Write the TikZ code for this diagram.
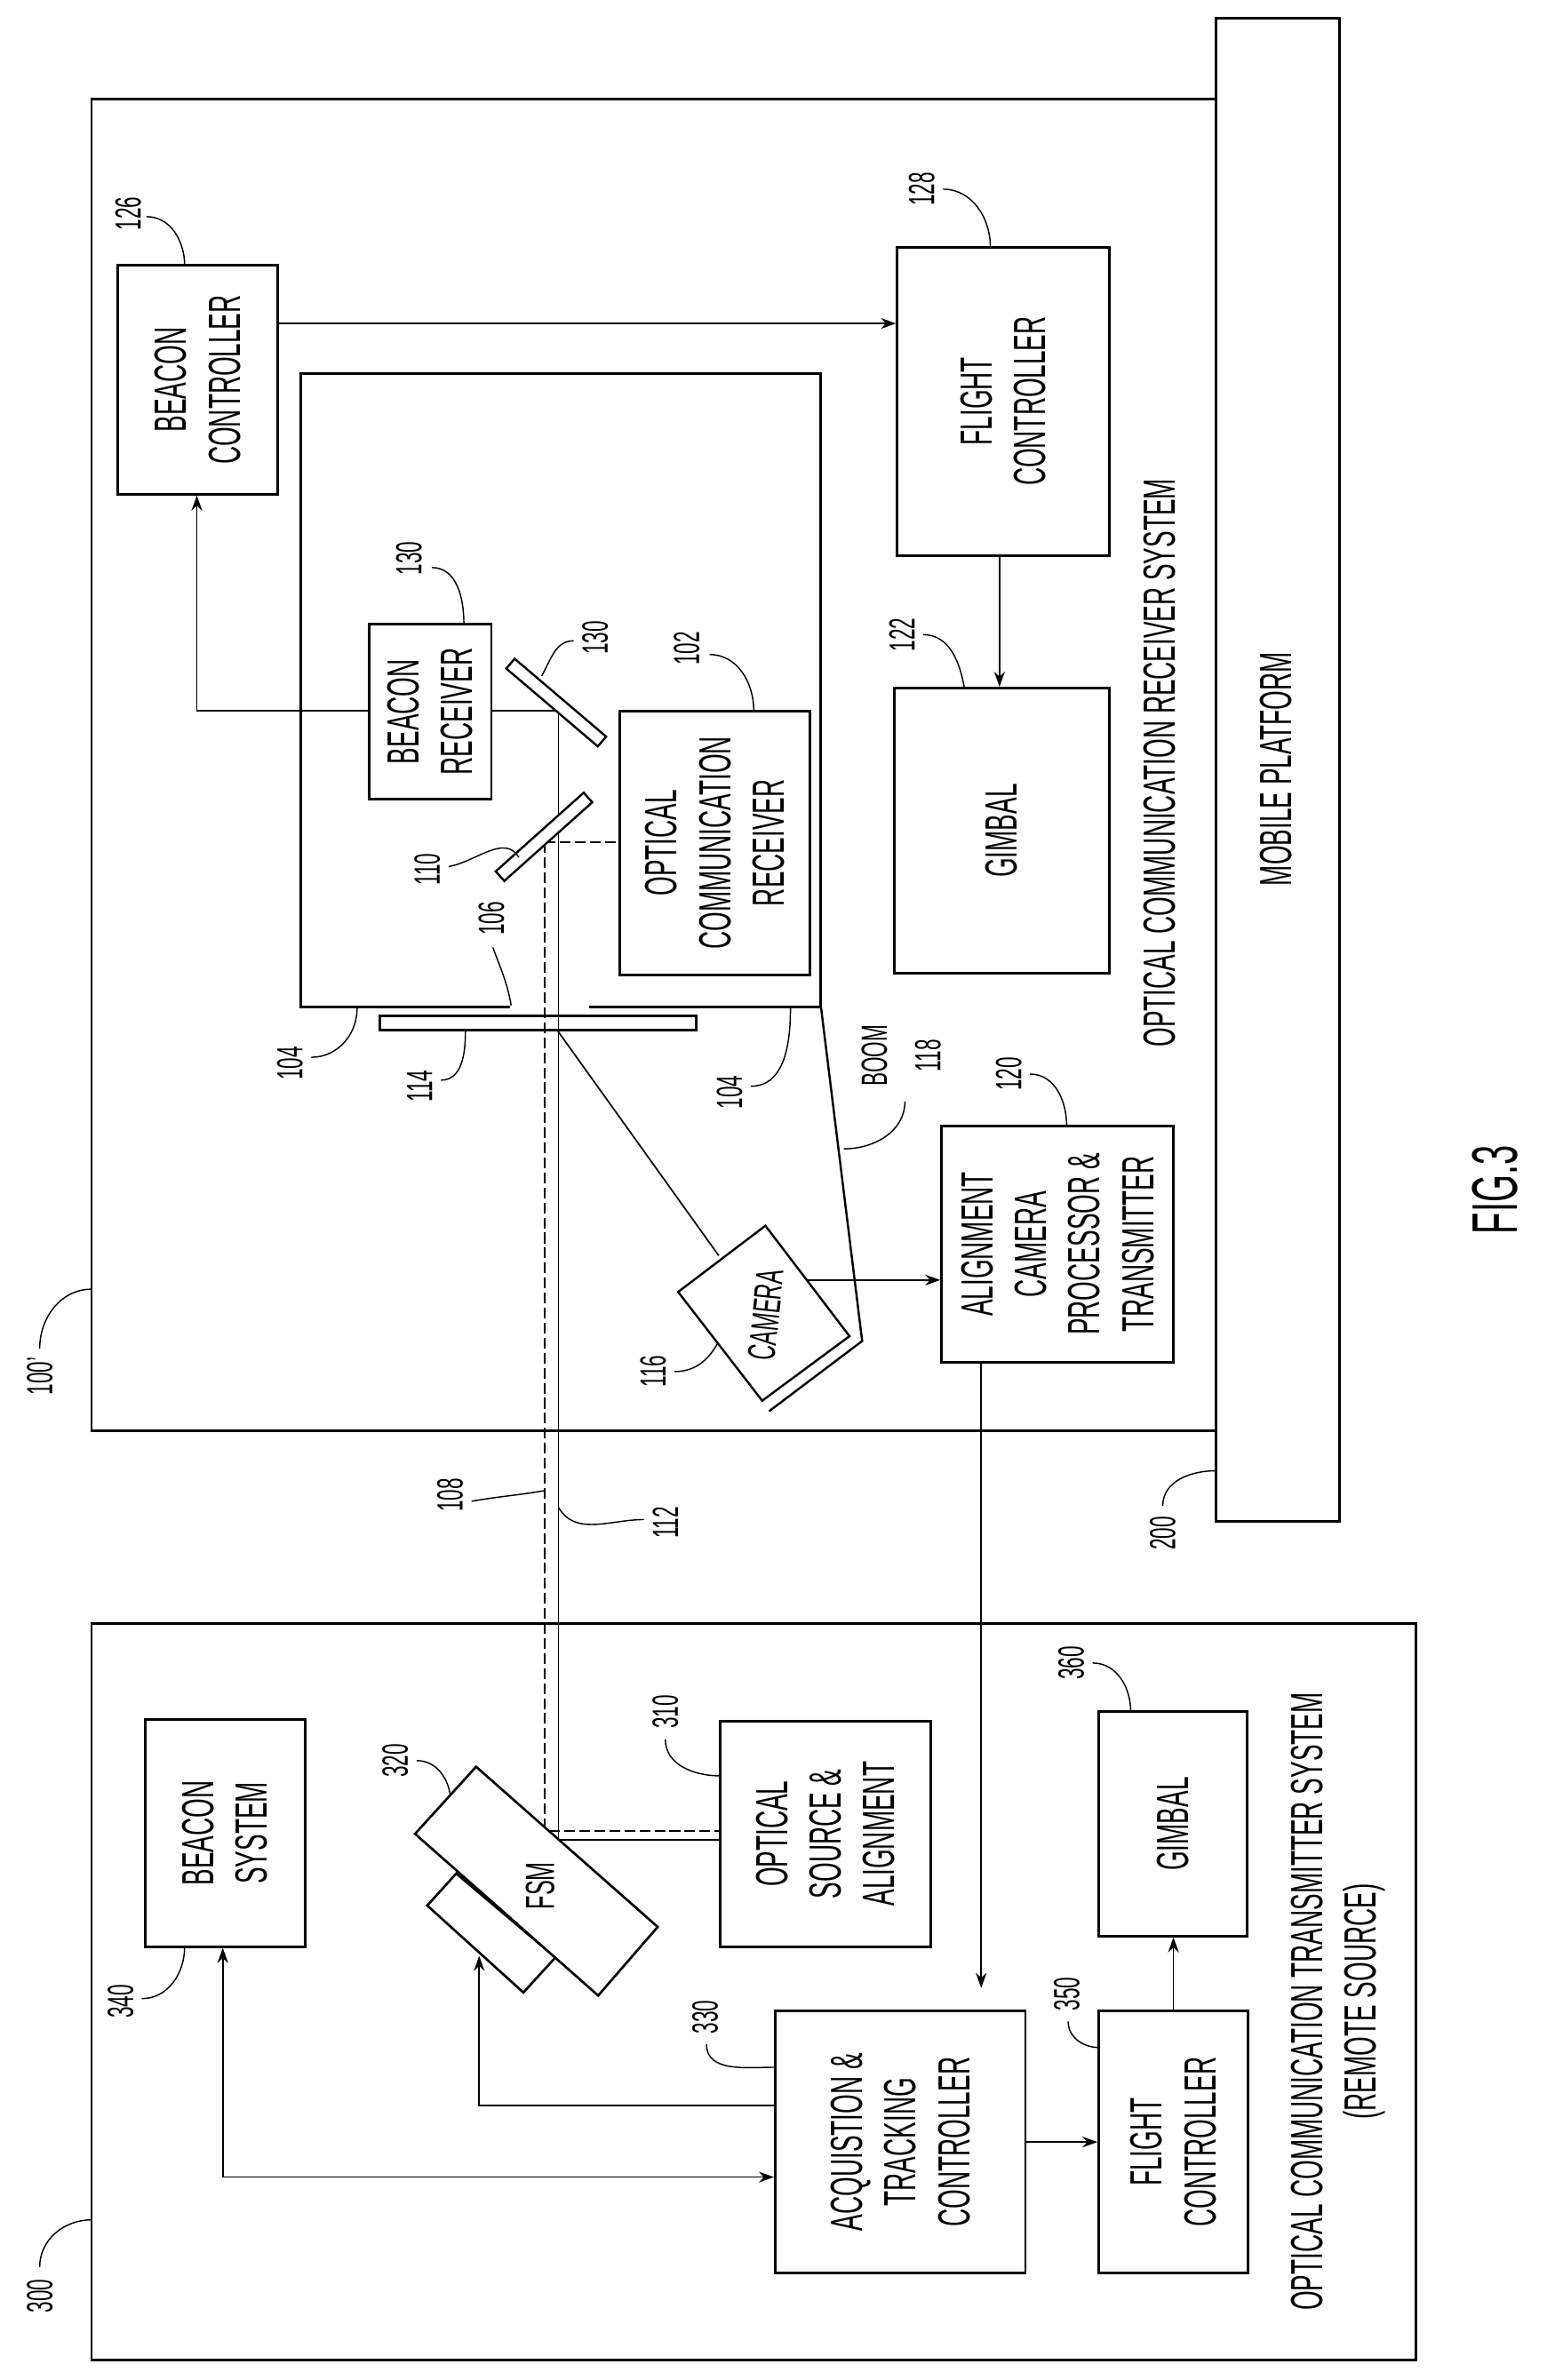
\documentclass[tikz,border=0pt]{standalone}
\usepackage{fontspec}
\setmainfont{Liberation Sans}[FakeStretch=0.55]
\usetikzlibrary{fit,arrows.meta}
\begin{document}
\begin{tikzpicture}[x=0.025cm,y=-0.025cm,
  box/.style={draw,line width=1.2pt,inner sep=0pt},
  con/.style={line width=0.7pt},
  arr/.style={con,-{Stealth[length=7pt,width=5pt]}},
  lead/.style={line width=0.6pt},
  txt/.style={rotate=90,align=center,font=\fontsize{21}{25}\selectfont},
  num/.style={rotate=90,font=\fontsize{17}{20}\selectfont,inner sep=1pt},
  mir/.style={draw,line width=1pt,fill=white,minimum height=6pt,inner sep=0pt}]
\useasboundingbox (0,0) rectangle (1024,1560);
% receiver system
\node[box,fit={(60,65)(797,938)}] (rx) {};
\node[box,fit={(797,12)(878,997)}] (mp) {};
\node[txt] at (836,504) {MOBILE PLATFORM};
\node[txt] at (760,500) {OPTICAL COMMUNICATION RECEIVER SYSTEM};
\node[box,fit={(77,174)(182,324)}] (bc) {};
\node[txt] at (bc) {BEACON\\CONTROLLER};
\node[box,fit={(588,162)(727,364)}] (fc) {};
\node[txt] at (fc) {FLIGHT\\CONTROLLER};
\node[box,fit={(586,451)(727,638)}] (gb) {};
\node[txt] at (gb) {GIMBAL};
% inner box 104
\draw[line width=1.2pt] (334,660) -| (197,245) -| (538,660) -- (386,660);
\node[box,fit={(242,409)(322,524)}] (br) {};
\node[txt] at (br) {BEACON\\RECEIVER};
\node[box,fit={(406,466)(531,639)}] (ocr) {};
\node[txt] at (ocr) {OPTICAL\\COMMUNICATION\\RECEIVER};
\node[box,fit={(249,666)(456,675)}] (plate) {};
\node[box,fit={(617,738)(769,893)}] (al) {};
\node[txt] at (al) {ALIGNMENT\\CAMERA\\PROCESSOR \&\\TRANSMITTER};
% beams
\coordinate (m130) at (365,466);
\coordinate (m110) at (357,552);
\draw[con] (366,466) -- (366,1206);
\draw[con,dash pattern=on 5pt off 2pt] (m110) -- (357,1198);
\draw[con,dash pattern=on 5pt off 2pt] (m110) -- (ocr.west |- m110);
\draw[con] (br.east |- m130) -- (m130);
\node[mir,minimum width=56pt,rotate=-40.4] (mr130) at (364.5,460.5) {};
\node[mir,minimum width=55pt,rotate=41.8] (mr110) at (356.5,548.5) {};
\draw[arr] (br.west |- m130) -| (bc.south -| 129,0);
\draw[arr] (bc.east |- 0,212) -- (fc.west |- 0,212);
\draw[arr] (fc.south -| 655,0) -- (gb.north -| 655,0);
% camera & boom
\coordinate (c1) at (501.6,803.4);
\coordinate (c2) at (556.7,875.8);
\coordinate (c3) at (499.5,918.1);
\coordinate (c4) at (444.4,846.8);
\draw[line width=1pt,fill=white] (c1) -- (c2) -- (c3) -- (c4) -- cycle;
\node[txt,rotate=-6,font=\fontsize{18}{20}\selectfont,inner sep=0pt] (cam) at (502,862) {CAMERA};
\draw[line width=1pt] (538,660) -- (565,879) -- (504,925);
\draw[con] (365,675) -- (471,823);
\draw[arr] (529,839) -- (al.west |- 0,839);
% transmitter system
\node[box,fit={(60,1064)(928,1547)}] (tx) {};
\node[txt] at (877,1312) {OPTICAL COMMUNICATION TRANSMITTER SYSTEM\\(REMOTE SOURCE)};
\node[box,fit={(95,1127)(200,1276)}] (bs) {};
\node[txt] at (bs) {BEACON\\SYSTEM};
\node[box,fit={(472,1128)(610,1276)}] (os) {};
\node[txt] at (os) {OPTICAL\\SOURCE \&\\ALIGNMENT};
\node[box,fit={(720,1122)(817,1269)}] (gb2) {};
\node[txt] at (gb2) {GIMBAL};
\node[box,fit={(508,1318)(672,1490)}] (acq) {};
\node[txt] at (acq) {ACQUISTION \&\\TRACKING\\CONTROLLER};
\node[box,fit={(720,1318)(818,1490)}] (fc2) {};
\node[txt] at (fc2) {FLIGHT\\CONTROLLER};
% FSM
\draw[line width=1.1pt,fill=white] (299,1228) -- (280,1249) -- (343,1306) -- (364,1283) -- cycle;
\draw[line width=1.1pt,fill=white] (312,1158) -- (431,1263) -- (392,1308) -- (272,1202) -- cycle;
\node[txt,font=\fontsize{19}{22}\selectfont] (fsm) at (354,1236) {FSM};
\draw[con,dash pattern=on 5pt off 2pt] (360,1200) -- (os.west |- 0,1200);
\draw[con] (366,1206) -- (os.west |- 0,1206);
\draw[arr] (al.south -| 643,0) -- (643,1303);
\draw[arr] (acq.west |- 0,1380) -| (314,1282);
\draw[con,{Stealth[length=7pt,width=5pt]}-{Stealth[length=7pt,width=5pt]}] (bs.south -| 146,0) |- (acq.west |- 0,1427);
\draw[arr] (acq.east |- 0,1404) -- (fc2.west |- 0,1404);
\draw[arr] (fc2.north -| 769,0) -- (gb2.south -| 769,0);
% labels
\node[num] at (84,140) {126};
\draw[lead] (96,142) to[out=0,in=90] (121,174);
\node[num] at (604,124) {128};
\draw[lead] (618,124) to[out=0,in=90] (649,162);
\node[num] at (268,366) {130};
\draw[lead] (283,372) to[out=0,in=90] (304,409);
\node[num] at (390,418) {130};
\draw[lead] (376,420) to[out=180,in=60] (355,443);
\node[num] at (450,425) {102};
\draw[lead] (465,429) to[out=0,in=90] (494,466);
\node[num] at (280,570) {110};
\draw[lead] (294,568) to[out=10,in=120] (340,562);
\node[num] at (322,602) {106};
\draw[lead] (323,621) to[out=-70,in=100] (335,659);
\node[num] at (190,697) {104};
\draw[lead] (204,693) to[out=0,in=-90] (234,661);
\node[num] at (275,712) {114};
\draw[lead] (289,708) to[out=0,in=-90] (305,676);
\node[num] at (478,716) {104};
\draw[lead] (492,712) to[out=0,in=-90] (518,661);
\node[num] at (573,692) {BOOM};
\node[num] at (608,692) {118};
\draw[lead] (593,722) to[out=-90,in=0] (553,753);
\node[num] at (661,704) {120};
\draw[lead] (675,704) to[out=0,in=90] (699,738);
\node[num] at (428,899) {116};
\draw[lead] (442,899) to[out=0,in=-120] (470,881);
\node[num] at (591,416) {122};
\draw[lead] (605,416) to[out=0,in=100] (632,451);
\node[num] at (26,902) {100'};
\draw[lead] (26,884) to[out=90,in=180] (60,845);
\node[num] at (762,1005) {200};
\draw[lead] (762,987) to[out=90,in=180] (797,964);
\node[num] at (295,980) {108};
\draw[lead] (309,984) to[out=10,in=190] (357,977);
\node[num] at (436,998) {112};
\draw[lead] (422,996) to[out=180,in=-60] (366,988);
\node[num] at (436,1122) {310};
\draw[lead] (436,1140) to[out=-90,in=180] (472,1164);
\node[num] at (259,1154) {320};
\draw[lead] (273,1154) to[out=0,in=100] (295,1176);
\node[num] at (79,1312) {340};
\draw[lead] (93,1310) to[out=0,in=-90] (121,1276);
\node[num] at (462,1322) {330};
\draw[lead] (463,1340) to[out=-90,in=180] (508,1355);
\node[num] at (699,1307) {350};
\draw[lead] (700,1325) to[out=-90,in=180] (720,1342);
\node[num] at (702,1090) {360};
\draw[lead] (716,1090) to[out=0,in=90] (741,1122);
\node[num] at (26,1505) {300};
\draw[lead] (26,1486) to[out=90,in=180] (60,1455);
\node[rotate=90,font=\fontsize{30}{34}\selectfont] at (980,780) {FIG.3};
\end{tikzpicture}
\end{document}
